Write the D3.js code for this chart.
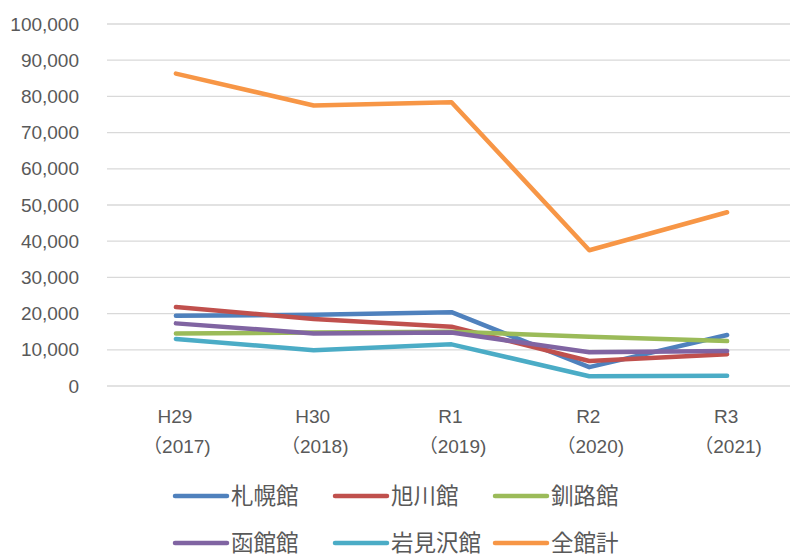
<!DOCTYPE html>
<html><head><meta charset="utf-8">
<script src="https://cdn.jsdelivr.net/npm/d3@7"></script>
<style>
html,body{margin:0;padding:0;background:#fff;}
svg text{font-family:"Liberation Sans","Noto Sans CJK JP",sans-serif;fill:#595959;}
</style></head>
<body><svg id="c" width="790" height="556"></svg>
<script>
const categories = ["H29", "H30", "R1", "R2", "R3"];
const years = ["（2017)", "（2018)", "（2019)", "（2020)", "（2021)"];
const seriesNames = ["札幌館", "旭川館", "釧路館", "函館館", "岩見沢館", "全館計"];
const sapporo = [19400, 19700, 20400, 5200, 14100];
const asahikawa = [21800, 18500, 16400, 6900, 8800];
const kushiro = [14500, 14800, 15000, 13600, 12400];
const hakodate = [17300, 14500, 14800, 9300, 9700];
const iwamizawa = [13000, 9900, 11500, 2700, 2800];
const total = [86300, 77500, 78400, 37500, 48000];
const yTicks = [0, 10000, 20000, 30000, 40000, 50000, 60000, 70000, 80000, 90000, 100000];
const colors = ["#4F81BD", "#C0504D", "#9BBB59", "#8064A2", "#4BACC6", "#F79646"];

const seriesValues = [sapporo, asahikawa, kushiro, hakodate, iwamizawa, total];
const svg = d3.select("#c");
const x = d3.scaleBand().domain(categories).range([107, 796]);
const y = d3.scaleLinear().domain([0, 100000]).range([386, 24]);
const cx = c => x(c) + x.bandwidth() / 2;

// gridlines
svg.append("g").selectAll("line").data(yTicks).join("line")
  .attr("x1", 107).attr("x2", 790)
  .attr("y1", d => y(d)).attr("y2", d => y(d))
  .attr("stroke", "#d9d9d9").attr("stroke-width", 1.3);

// y labels
svg.append("g").selectAll("text").data(yTicks).join("text")
  .attr("x", 79).attr("y", d => y(d)).attr("dy", "0.35em")
  .attr("text-anchor", "end").attr("font-size", 19)
  .text(d => d3.format(",")(d));

// x labels
const xl = svg.append("g").selectAll("g").data(categories).join("g");
xl.append("text").attr("x", d => cx(d) - 1).attr("y", 423).attr("text-anchor", "middle")
  .attr("font-size", 19).text(d => d);
xl.append("text").attr("x", d => cx(d) + 1).attr("y", 453).attr("text-anchor", "middle")
  .attr("font-size", 19).text((d, i) => years[i]);

// lines
const line = d3.line().x((d, i) => cx(categories[i])).y(d => y(d));
svg.append("g").selectAll("path").data(seriesValues).join("path")
  .attr("d", d => line(d)).attr("fill", "none")
  .attr("stroke", (d, i) => colors[i]).attr("stroke-width", 4.5)
  .attr("stroke-linecap", "round").attr("stroke-linejoin", "round");

// legend
const lx = [175, 335, 495];
const ly = [496, 543];
const lg = svg.append("g").selectAll("g").data(seriesNames).join("g")
  .attr("transform", (d, i) => `translate(${lx[i % 3]},${ly[Math.floor(i / 3)]})`);
lg.append("line").attr("x1", 0).attr("x2", 52).attr("y1", 0).attr("y2", 0)
  .attr("stroke", (d, i) => colors[i]).attr("stroke-width", 4.5).attr("stroke-linecap", "round");
lg.append("text").attr("x", 56).attr("y", 0).attr("dy", "0.36em").attr("font-size", 22.5)
  .text(d => d);
</script></body></html>
